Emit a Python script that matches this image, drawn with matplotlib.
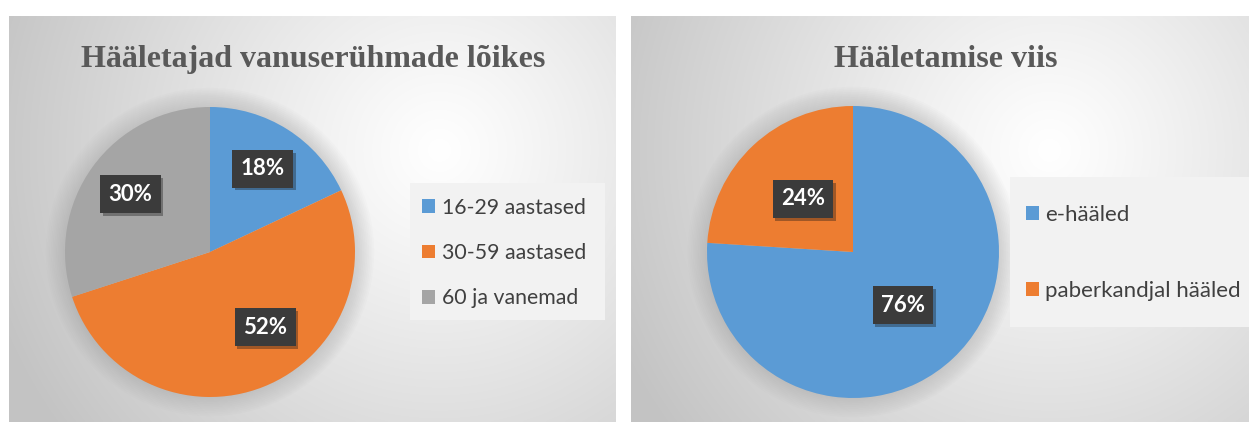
import numpy as np
import matplotlib
matplotlib.use("Agg")
import matplotlib.pyplot as plt
import matplotlib.patheffects as pe
from matplotlib.patches import Patch, Rectangle

# data
age_labels = ["16-29 aastased", "30-59 aastased", "60 ja vanemad"]
age_shares = [18, 52, 30]
vote_labels = ["e-hääled", "paberkandjal hääled"]
vote_shares = [76, 24]

title_left = "Hääletajad vanuserühmade lõikes"
title_right = "Hääletamise viis"

BLUE = "#5b9bd5"
ORANGE = "#ed7d31"
GRAY = "#a5a5a5"
TEXT = "#595959"

W, H = 1249, 422
fig = plt.figure(figsize=(W / 100, H / 100), dpi=100)
fig.patch.set_facecolor("white")


def px_box(x0, y0, x1, y1):
    return [x0 / W, 1 - y1 / H, (x1 - x0) / W, (y1 - y0) / H]


def panel_background(x0, y0, x1, y1, fx, fy):
    ax = fig.add_axes(px_box(x0, y0, x1, y1))
    xs = np.linspace(x0, x1, 300)
    ys = np.linspace(y0, y1, 200)
    X, Y = np.meshgrid(xs, ys)
    d = np.sqrt((X - fx) ** 2 + (Y - fy) ** 2) / 430
    shade = 1.0 - 0.21 * np.clip(d, 0, 1.1) ** 1.1
    img = np.dstack([shade, shade, shade])
    ax.imshow(img, extent=[0, 1, 0, 1], aspect="auto", interpolation="bilinear")
    ax.axis("off")
    return ax


def draw_pie(cx, cy, r, shares, colors, pctdist):
    # soft glow behind the pie
    glow = fig.add_axes(px_box(cx - r - 20, cy - r - 20, cx + r + 20, cy + r + 20))
    glow.axis("off")
    for k in range(12):
        rr = 1.0 + 0.012 * k
        glow.add_patch(plt.Circle((0, 0), rr, color="#7f7f7f", alpha=0.025,
                                  linewidth=0))
    lim = (r + 20) / r
    glow.set_xlim(-lim, lim)
    glow.set_ylim(-lim, lim)

    ax = fig.add_axes(px_box(cx - r, cy - r, cx + r, cy + r))
    ax.patch.set_alpha(0)
    wedges, _, autotexts = ax.pie(
        shares, colors=colors, startangle=90, counterclock=False,
        radius=1, autopct="%d%%", pctdistance=pctdist,
        wedgeprops=dict(linewidth=0),
    )
    for t in autotexts:
        t.set_color("white")
        t.set_fontfamily("Lato")
        t.set_fontweight("bold")
        t.set_fontsize(16)
        t.set_bbox(dict(boxstyle="square,pad=0.38", facecolor="#3b3b3b",
                        edgecolor="none"))
        t.get_bbox_patch().set_path_effects(
            [pe.SimplePatchShadow(offset=(2, -2), alpha=0.35), pe.Normal()])
    ax.set_xlim(-1, 1)
    ax.set_ylim(-1, 1)
    return ax, autotexts


def legend_box(x0, y0, x1, y1):
    fig.patches.append(Rectangle((x0 / W, 1 - y1 / H), (x1 - x0) / W,
                                 (y1 - y0) / H, transform=fig.transFigure,
                                 facecolor="#f2f2f2", edgecolor="none",
                                 zorder=2))


panel_background(9, 16, 616, 422, 440, 150)
panel_background(631, 16, 1249, 422, 1050, 150)

fig.text(313 / W, 1 - 67 / H, title_left, ha="center", va="baseline",
         fontfamily="Liberation Serif", fontweight="bold", fontsize=23,
         color=TEXT)
fig.text(946 / W, 1 - 67 / H, title_right, ha="center", va="baseline",
         fontfamily="Liberation Serif", fontweight="bold", fontsize=23,
         color=TEXT)

ax1, lbl1 = draw_pie(210, 252, 145, age_shares, [BLUE, ORANGE, GRAY], 0.68)
# Excel's best-fit placement for the big slice
lbl1[1].set_position((0.38, -0.52))
ax2, lbl2 = draw_pie(853, 252, 146, vote_shares, [BLUE, ORANGE], 0.5)

legend_box(410, 183, 605, 320)
legend_box(1010, 177, 1249, 327)

h1 = [Patch(facecolor=c, edgecolor="none") for c in [BLUE, ORANGE, GRAY]]
leg1 = fig.legend(h1, age_labels, loc="center left",
                  bbox_to_anchor=(421 / W, 1 - 253 / H),
                  prop=dict(family="Lato", size=15.3),
                  frameon=False, labelspacing=1.2,
                  handlelength=0.62, handleheight=0.62, handletextpad=0.3,
                  borderpad=0.05, borderaxespad=0)

h2 = [Patch(facecolor=c, edgecolor="none") for c in [BLUE, ORANGE]]
leg2 = fig.legend(h2, vote_labels, loc="center left",
                  bbox_to_anchor=(1025 / W, 1 - 253 / H),
                  prop=dict(family="Lato", size=16),
                  frameon=False, labelspacing=2.53,
                  handlelength=0.6, handleheight=0.6, handletextpad=0.25,
                  borderpad=0.05, borderaxespad=0)

for leg in (leg1, leg2):
    leg.set_zorder(3)
    for t in leg.get_texts():
        t.set_color("#404040")

fig.savefig("out.png", dpi=100)
